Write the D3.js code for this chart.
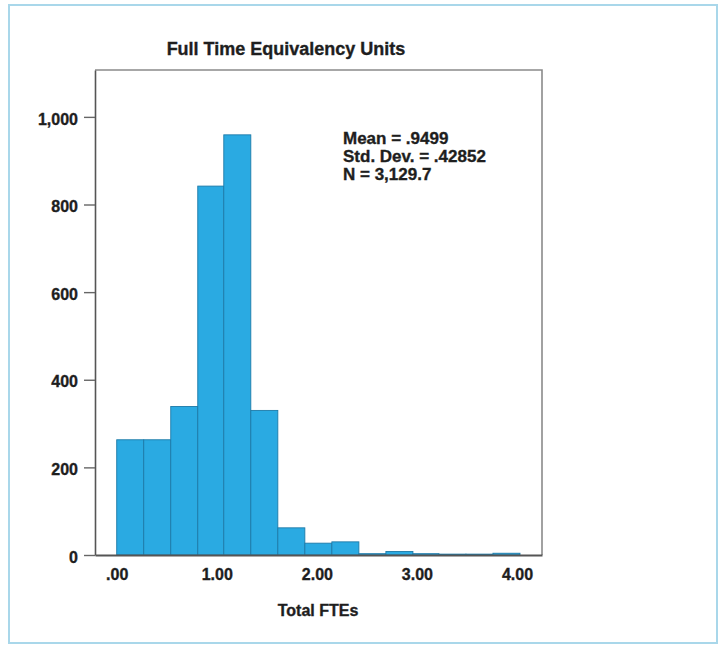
<!DOCTYPE html>
<html>
<head>
<meta charset="utf-8">
<script src="https://cdn.jsdelivr.net/npm/d3@7"></script>
<style>
  html, body { margin: 0; padding: 0; background: #fff; }
  svg { display: block; }
  .t { font-family: "Liberation Sans Narrow", "Arial Narrow", "Liberation Sans", Arial, sans-serif; font-weight: bold; fill: #1e1e1e; stroke: #1e1e1e; stroke-width: 0.35px; }
</style>
</head>
<body>
<svg id="chart" width="720" height="647"></svg>
<script>
// ---- data ----
const binEdges = [0.00, 0.27, 0.54, 0.81, 1.07, 1.34, 1.61, 1.88, 2.15, 2.42, 2.69, 2.96, 3.22, 3.49, 3.76, 4.03];
const counts   = [263, 263, 339, 842, 959, 330, 62, 27, 30, 3, 8, 3, 2, 2, 4];
const xTicks = [0, 1, 2, 3, 4];
const xTickLabels = [".00", "1.00", "2.00", "3.00", "4.00"];
const yTicks = [0, 200, 400, 600, 800, 1000];
const yTickLabels = ["0", "200", "400", "600", "800", "1,000"];
const titleText = "Full Time Equivalency Units";
const xAxisTitle = "Total FTEs";
const statsLines = ["Mean = .9499", "Std. Dev. = .42852", "N = 3,129.7"];

const bins = counts.map((c, i) => ({ x0: binEdges[i], x1: binEdges[i + 1], count: c }));

const svg = d3.select("#chart");
const plot = { left: 95, right: 542, top: 70, bottom: 555 };

// outer frame
svg.append("rect").attr("x", 9).attr("y", 5).attr("width", 708).attr("height", 638)
  .attr("fill", "none").attr("stroke", "#a9d7ea").attr("stroke-width", 2);

const x = d3.scaleLinear().domain([-0.217, 4.25]).range([plot.left, plot.right]);
const y = d3.scaleLinear().domain([0, 1107]).range([plot.bottom, plot.top]);

// bars
svg.append("g").selectAll("rect").data(bins).join("rect")
  .attr("x", d => x(d.x0))
  .attr("width", d => x(d.x1) - x(d.x0))
  .attr("y", d => y(d.count))
  .attr("height", d => y(0) - y(d.count))
  .attr("fill", "#2aaae2")
  .attr("stroke", "#1d7aa8")
  .attr("stroke-width", 0.9);

// plot box (top/right)
svg.append("path")
  .attr("d", `M${plot.left},${plot.top}H${plot.right}V${plot.bottom}`)
  .attr("fill", "none").attr("stroke", "#8a8a8a").attr("stroke-width", 1.6);

// y axis
const yAxis = d3.axisLeft(y).tickValues(yTicks).tickSize(11).tickSizeOuter(0).tickPadding(6)
  .tickFormat((d, i) => yTickLabels[i]);
const gy = svg.append("g").attr("transform", `translate(${plot.left},0)`).call(yAxis);
gy.select(".domain").attr("stroke", "#555").attr("stroke-width", 1.6);
gy.selectAll(".tick line").attr("stroke", "#666").attr("stroke-width", 1.4);
gy.selectAll(".tick text").attr("class", "t").style("font-size", "16px").attr("dy", "0.45em");

// x axis
const xAxis = d3.axisBottom(x).tickValues(xTicks).tickSize(0).tickSizeOuter(0).tickPadding(14)
  .tickFormat((d, i) => xTickLabels[i]);
const gx = svg.append("g").attr("transform", `translate(0,${plot.bottom})`).call(xAxis);
gx.select(".domain").attr("stroke", "#555").attr("stroke-width", 1.8);
gx.selectAll(".tick text").attr("class", "t").style("font-size", "16px");

// title
svg.append("text").attr("class", "t").attr("x", 286).attr("y", 55)
  .attr("text-anchor", "middle").style("font-size", "18px").text(titleText);

// x axis title
svg.append("text").attr("class", "t").attr("x", 318).attr("y", 616)
  .attr("text-anchor", "middle").style("font-size", "16px").text(xAxisTitle);

// stats
svg.append("g").selectAll("text").data(statsLines).join("text")
  .attr("class", "t").attr("x", 343).attr("y", (d, i) => 144 + i * 18)
  .style("font-size", "17px").text(d => d);
</script>
</body>
</html>
